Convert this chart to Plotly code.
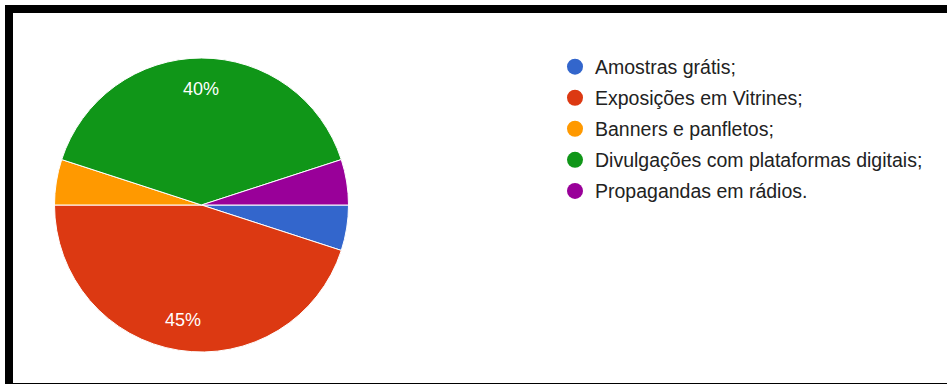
import math
import plotly.graph_objects as go

W, H = 947, 385

categories = [
    "Amostras grátis;",
    "Exposições em Vitrines;",
    "Banners e panfletos;",
    "Divulgações com plataformas digitais;",
    "Propagandas em rádios.",
]
values = [5, 45, 5, 40, 5]
colors = ["#3366cc", "#dc3912", "#ff9900", "#109618", "#990099"]

FONT = "Arial, Liberation Sans, sans-serif"


def px_x(x):
    return x / W


def px_y(y):
    return 1 - y / H


# pie placement (pixels)
cx_px, cy_px, r_px = 201.5, 205.0, 147.0
dom_x = [px_x(cx_px - r_px), px_x(cx_px + r_px)]
dom_y = [px_y(cy_px + r_px), px_y(cy_px - r_px)]

fig = go.Figure()

fig.add_trace(go.Pie(
    labels=categories,
    values=values,
    textinfo="none",
    marker=dict(colors=colors, line=dict(color="white", width=1)),
    sort=False,
    direction="clockwise",
    rotation=90,
    showlegend=False,
    hoverinfo="label+percent",
    domain=dict(x=dom_x, y=dom_y),
))

# percentage labels for the larger slices, placed from the data's angles
total = sum(values)
annotations = []
start = 0.0  # degrees, clockwise from 3 o'clock
for v in values:
    frac = v / total
    mid = start + frac * 360 / 2
    start += frac * 360
    if frac >= 0.10:
        ang = math.radians(mid)
        lx = cx_px + 0.79 * r_px * math.cos(ang)
        ly = cy_px + 0.79 * r_px * math.sin(ang)
        annotations.append(dict(
            x=px_x(lx), y=px_y(ly), xref="paper", yref="paper",
            text=f"{round(frac * 100)}%", showarrow=False,
            xanchor="center", yanchor="middle",
            font=dict(family=FONT, size=18, color="white"),
        ))

for name, col in zip(categories, colors):
    fig.add_trace(go.Scatter(
        x=[None], y=[None], mode="markers", name=name,
        marker=dict(symbol="circle", size=18, color=col),
        legendgroup=name,
    ))

shapes = [
    dict(type="rect", xref="paper", yref="paper", x0=px_x(5), x1=1, y0=px_y(13), y1=px_y(5),
         fillcolor="black", line=dict(width=0), layer="above"),
    dict(type="rect", xref="paper", yref="paper", x0=px_x(5), x1=px_x(13), y0=px_y(384), y1=px_y(5),
         fillcolor="black", line=dict(width=0), layer="above"),
    dict(type="rect", xref="paper", yref="paper", x0=px_x(5), x1=1, y0=px_y(384), y1=px_y(383),
         fillcolor="black", line=dict(width=0), layer="above"),
]

fig.update_layout(
    width=W, height=H,
    margin=dict(l=0, r=0, t=0, b=0),
    paper_bgcolor="white",
    plot_bgcolor="white",
    xaxis=dict(visible=False),
    yaxis=dict(visible=False),
    shapes=shapes,
    annotations=annotations,
    legend=dict(
        x=px_x(555), y=px_y(47.5), xanchor="left", yanchor="top",
        font=dict(family=FONT, size=19.5, color="#222222"),
        traceorder="grouped",
        tracegroupgap=2.7,
        itemclick=False,
        bgcolor="rgba(0,0,0,0)",
    ),
)

fig.write_html("out.html")
